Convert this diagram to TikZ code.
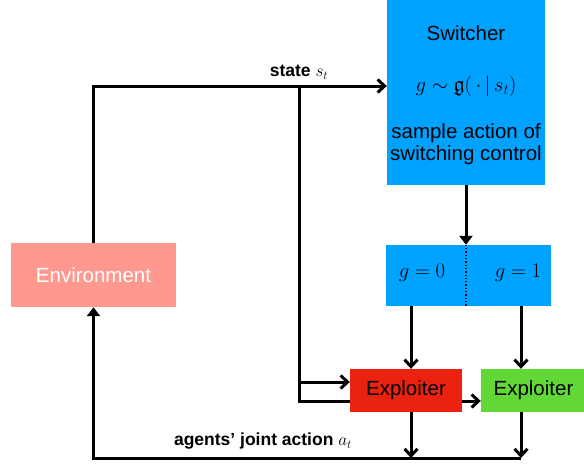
\documentclass[tikz,border=0pt]{standalone}
\usepackage{amssymb}
\usepackage{amsmath}
\usepackage[no-math]{fontspec}
\setmainfont{Liberation Sans}
\usetikzlibrary{arrows.meta}

\definecolor{envred}{RGB}{255,152,143}
\definecolor{swblue}{RGB}{0,162,255}
\definecolor{expred}{RGB}{236,34,16}
\definecolor{expgreen}{RGB}{97,216,54}

\begin{document}
\begin{tikzpicture}
[x=1pt,y=-1pt,
%%%%%%%%%%%%%%%%%%%%%%%%%%%%%%
box/.style={rectangle,inner sep=0pt,align=center,font=\fontsize{20.5}{23}\selectfont},
line/.style={line width=3pt,-{Straight Barb[length=7pt,width=13pt,line width=3pt]}},
tri/.style={line width=3pt,-{Triangle[length=9pt,width=13pt]}},
lbl/.style={font=\fontsize{17.5}{20}\selectfont\bfseries},
mth/.style={font=\fontsize{22}{24}\selectfont},
]%%%%%%%%%%%%%%%%%%%%%%%%%%%%%%

\useasboundingbox (0,0) rectangle (584,464);

\node[box,fill=envred,text=white,minimum width=165pt,minimum height=64pt] (env) at (93.5,275){Environment};
\node[box,fill=swblue,minimum width=158pt,minimum height=185pt] (switcher) at (466,92.5){};
\node[box] (swname) at (466,33){Switcher};
\node[mth] (swlaw) at (466,86){$g\sim\mathfrak{g}(\,\cdot\,|\,s_t)$};
\node[box] (swtext) at (466,144){sample action of\\[-1pt]switching control};
\node[box,fill=swblue,minimum width=165pt,minimum height=61pt] (gbox) at (468.5,275.5){};
\node[mth] (g0) at (422,273){$g=0$};
\node[mth] (g1) at (518,273){$g=1$};
\node[box,fill=expred,minimum width=112pt,minimum height=43pt] (exp1) at (406,390.5){Exploiter};
\node[box,fill=expgreen,minimum width=105pt,minimum height=43pt] (exp2) at (533.5,390.5){Exploiter};

\coordinate (top) at (93,86);
\coordinate (br) at (299,86);
\coordinate (mid) at (299,382);
\coordinate (lo) at (299,401);
\coordinate (d0) at (411,0);
\coordinate (d1) at (521,0);
\coordinate (bot) at (521,458);

% state goes to the switcher and both exploiters
\draw[line] (env.north) |- (switcher.west |- top);
\draw[line width=3pt] (br) -- (lo) -- (exp1.west |- lo);
\draw[line] (mid) -- (exp1.west |- mid);
\draw[line] (exp1.east |- lo) -- (exp2.west |- lo);
\node[lbl] (state) at (299,72){state $s_t$};

% switching
\draw[tri] (switcher.south) -- (switcher.south |- gbox.north);
\draw[dotted,line width=1.3pt] (gbox.north -| switcher.south) -- (gbox.south -| switcher.south);
\draw[line] (gbox.south -| d0) -- (exp1.north -| d0);
\draw[line] (gbox.south -| d1) -- (exp2.north -| d1);

% joint action back to the environment
\draw[line] (exp1.south -| d0) -- (d0 |- bot);
\draw[line] (exp2.south -| d1) -- (bot);
\draw[tri] (bot) -| (env.south);
\node[lbl] (act) at (263,441){agents' joint action $a_t$};
\end{tikzpicture}
\end{document}
